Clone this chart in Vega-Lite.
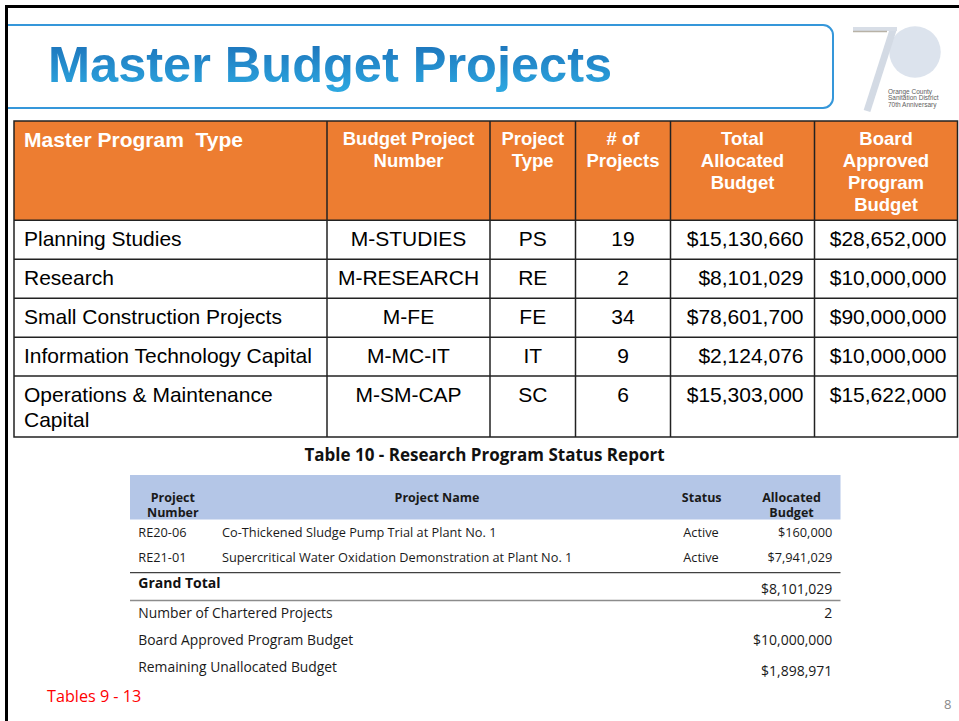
{
  "$schema": "https://vega.github.io/schema/vega-lite/v6.json",
  "width": 959,
  "height": 721,
  "autosize": "none",
  "padding": 0,
  "background": "white",
  "usermeta": {"embedOptions": {"actions": false}},
  "config": {"view": {"stroke": null}, "axis": {"disable": true}, "font": "Liberation Sans"},
  "resolve": {"scale": {"x": "independent", "y": "independent"}},
  "datasets": {
    "master": [
      {"row": 0, "col": 0, "text": "Master Program \u00a0Type"},
      {"row": 0, "col": 1, "text": "Budget Project\nNumber"},
      {"row": 0, "col": 2, "text": "Project\nType"},
      {"row": 0, "col": 3, "text": "# of\nProjects"},
      {"row": 0, "col": 4, "text": "Total\nAllocated\nBudget"},
      {"row": 0, "col": 5, "text": "Board\nApproved\nProgram\nBudget"},
      {"row": 1, "col": 0, "text": "Planning Studies"},
      {"row": 1, "col": 1, "text": "M-STUDIES"},
      {"row": 1, "col": 2, "text": "PS"},
      {"row": 1, "col": 3, "text": "19"},
      {"row": 1, "col": 4, "text": "$15,130,660"},
      {"row": 1, "col": 5, "text": "$28,652,000"},
      {"row": 2, "col": 0, "text": "Research"},
      {"row": 2, "col": 1, "text": "M-RESEARCH"},
      {"row": 2, "col": 2, "text": "RE"},
      {"row": 2, "col": 3, "text": "2"},
      {"row": 2, "col": 4, "text": "$8,101,029"},
      {"row": 2, "col": 5, "text": "$10,000,000"},
      {"row": 3, "col": 0, "text": "Small Construction Projects"},
      {"row": 3, "col": 1, "text": "M-FE"},
      {"row": 3, "col": 2, "text": "FE"},
      {"row": 3, "col": 3, "text": "34"},
      {"row": 3, "col": 4, "text": "$78,601,700"},
      {"row": 3, "col": 5, "text": "$90,000,000"},
      {"row": 4, "col": 0, "text": "Information Technology Capital"},
      {"row": 4, "col": 1, "text": "M-MC-IT"},
      {"row": 4, "col": 2, "text": "IT"},
      {"row": 4, "col": 3, "text": "9"},
      {"row": 4, "col": 4, "text": "$2,124,076"},
      {"row": 4, "col": 5, "text": "$10,000,000"},
      {"row": 5, "col": 0, "text": "Operations & Maintenance\nCapital"},
      {"row": 5, "col": 1, "text": "M-SM-CAP"},
      {"row": 5, "col": 2, "text": "SC"},
      {"row": 5, "col": 3, "text": "6"},
      {"row": 5, "col": 4, "text": "$15,303,000"},
      {"row": 5, "col": 5, "text": "$15,622,000"}
    ],
    "research": [
      {"row": 0, "col": 0, "text": "Project\nNumber"},
      {"row": 0, "col": 1, "text": "Project Name"},
      {"row": 0, "col": 2, "text": "Status"},
      {"row": 0, "col": 3, "text": "Allocated\nBudget"},
      {"row": 1, "col": 0, "text": "RE20-06"},
      {"row": 1, "col": 1, "text": "Co-Thickened Sludge Pump Trial at Plant No. 1"},
      {"row": 1, "col": 2, "text": "Active"},
      {"row": 1, "col": 3, "text": "$160,000"},
      {"row": 2, "col": 0, "text": "RE21-01"},
      {"row": 2, "col": 1, "text": "Supercritical Water Oxidation Demonstration at Plant No. 1"},
      {"row": 2, "col": 2, "text": "Active"},
      {"row": 2, "col": 3, "text": "$7,941,029"},
      {"row": 3, "col": 0, "text": "Grand Total"},
      {"row": 3, "col": 3, "text": "$8,101,029"},
      {"row": 4, "col": 0, "text": "Number of Chartered Projects"},
      {"row": 4, "col": 3, "text": "2"},
      {"row": 5, "col": 0, "text": "Board Approved Program Budget"},
      {"row": 5, "col": 3, "text": "$10,000,000"},
      {"row": 6, "col": 0, "text": "Remaining Unallocated Budget"},
      {"row": 6, "col": 3, "text": "$1,898,971"}
    ]
  },
  "layer": [
    {
      "data": {"values": [{"title": "Master Budget Projects"}]},
      "mark": {"type": "rect", "fill": "#ffffff", "stroke": "#3597DA", "strokeWidth": 2, "cornerRadiusTopLeft": 0, "cornerRadiusBottomLeft": 0, "cornerRadiusTopRight": 10, "cornerRadiusBottomRight": 10},
      "encoding": {
        "x": {"datum": 0, "type": "quantitative", "scale": {"domain": [0, 1], "range": [7, 833], "nice": false}},
        "x2": {"datum": 1},
        "y": {"datum": 0, "type": "quantitative", "scale": {"domain": [0, 1], "range": [25, 108], "nice": false}},
        "y2": {"datum": 1}
      }
    },
    {
      "data": {"values": [{"title": "Master Budget Projects"}]},
      "mark": {"type": "text", "font": "Liberation Sans", "fontWeight": "bold", "fontSize": 50.5, "align": "left", "baseline": "alphabetic",
        "color": {"gradient": "linear", "x1": 0, "y1": 0, "x2": 0, "y2": 1, "stops": [{"offset": 0, "color": "#1A6DB6"}, {"offset": 1, "color": "#2EAAE2"}]}},
      "encoding": {
        "text": {"field": "title"},
        "x": {"datum": 0, "type": "quantitative", "scale": {"domain": [0, 1], "range": [48, 610], "nice": false}},
        "y": {"datum": 0, "type": "quantitative", "scale": {"domain": [0, 1], "range": [82, 108], "nice": false}}
      }
    },
    {
      "data": {"values": [{"logo": "70"}]},
      "mark": {"type": "point", "shape": "circle", "filled": true, "size": 2650, "color": "#DCE3ED", "opacity": 1},
      "encoding": {
        "x": {"datum": 0, "type": "quantitative", "scale": {"domain": [0, 1], "range": [915, 959], "nice": false}},
        "y": {"datum": 0, "type": "quantitative", "scale": {"domain": [0, 1], "range": [52, 110], "nice": false}}
      }
    },
    {
      "data": {"values": [{"logo": "70"}]},
      "mark": {"type": "rule", "color": "#D3DAE4", "strokeWidth": 7},
      "encoding": {
        "x": {"datum": 0, "type": "quantitative", "scale": {"domain": [0, 1], "range": [893, 867], "nice": false}},
        "x2": {"datum": 1},
        "y": {"datum": 0, "type": "quantitative", "scale": {"domain": [0, 1], "range": [30, 111], "nice": false}},
        "y2": {"datum": 1}
      }
    },
    {
      "data": {"values": [{"logo": "70"}]},
      "mark": {"type": "rule", "color": "#D8DEE7", "strokeWidth": 4},
      "encoding": {
        "x": {"datum": 0, "type": "quantitative", "scale": {"domain": [0, 1], "range": [853, 897], "nice": false}},
        "x2": {"datum": 1},
        "y": {"datum": 0, "type": "quantitative", "scale": {"domain": [0, 1], "range": [29, 40], "nice": false}}
      }
    },
    {
      "data": {"values": [{"logo": "70"}]},
      "mark": {"type": "rule", "color": "#B8B2A6", "strokeWidth": 1.5},
      "encoding": {
        "x": {"datum": 0, "type": "quantitative", "scale": {"domain": [0, 1], "range": [853, 887], "nice": false}},
        "x2": {"datum": 1},
        "y": {"datum": 0, "type": "quantitative", "scale": {"domain": [0, 1], "range": [31.5, 40], "nice": false}}
      }
    },
    {
      "data": {"values": [{"line": 1, "text": "Orange County"}, {"line": 2, "text": "Sanitation District"}, {"line": 3, "text": "70th Anniversary"}]},
      "mark": {"type": "text", "fontSize": 6.5, "color": "#5E5E5E", "align": "left", "baseline": "alphabetic"},
      "encoding": {
        "text": {"field": "text"},
        "x": {"datum": 0, "type": "quantitative", "scale": {"domain": [0, 1], "range": [888, 940], "nice": false}},
        "y": {"field": "line", "type": "quantitative", "scale": {"domain": [1, 3], "range": [93.5, 107], "nice": false}}
      }
    },
    {
      "data": {"name": "master"},
      "transform": [{"filter": "datum.row == 0 && datum.col == 0"}],
      "mark": {"type": "rect", "color": "#ED7D31"},
      "encoding": {
        "x": {"datum": 0, "type": "quantitative", "scale": {"domain": [0, 1], "range": [14, 957.5], "nice": false}},
        "x2": {"datum": 1},
        "y": {"datum": 0, "type": "quantitative", "scale": {"domain": [0, 1], "range": [121, 220.3], "nice": false}},
        "y2": {"datum": 1}
      }
    },
    {
      "data": {"name": "master"},
      "transform": [{"filter": "datum.row == 0 && datum.col == 0"}],
      "mark": {"type": "text", "font": "Liberation Sans", "fontWeight": "bold", "fontSize": 21, "color": "#ffffff", "align": "left", "baseline": "alphabetic"},
      "encoding": {
        "text": {"field": "text"},
        "x": {"field": "col", "type": "quantitative", "scale": {"domain": [0, 1], "range": [24, 408.5], "nice": false, "zero": false}},
        "y": {"field": "row", "type": "quantitative", "scale": {"domain": [0, 1], "range": [146.7, 246], "nice": false, "zero": false}}
      }
    },
    {
      "data": {"name": "master"},
      "transform": [{"filter": "datum.row == 0 && datum.col >= 1"}],
      "mark": {"type": "text", "font": "Liberation Sans", "fontWeight": "bold", "fontSize": 18.5, "color": "#ffffff", "align": "center", "baseline": "alphabetic", "lineBreak": "\n", "lineHeight": 22.3},
      "encoding": {
        "text": {"field": "text"},
        "x": {"field": "col", "type": "quantitative", "scale": {"domain": [1, 2, 3, 4, 5], "range": [408.5, 532.75, 623, 742.5, 886], "nice": false, "zero": false}},
        "y": {"field": "row", "type": "quantitative", "scale": {"domain": [0, 1], "range": [144.5, 246], "nice": false, "zero": false}}
      }
    },
    {
      "data": {"name": "master"},
      "transform": [{"filter": "datum.row >= 1 && datum.col == 0"}],
      "mark": {"type": "text", "font": "Liberation Sans", "fontSize": 21, "color": "#000000", "align": "left", "baseline": "alphabetic", "lineBreak": "\n", "lineHeight": 25.6},
      "encoding": {
        "text": {"field": "text"},
        "x": {"field": "col", "type": "quantitative", "scale": {"domain": [0, 1, 2, 3, 4, 5], "range": [24, 408.5, 532.75, 623, 803.5, 946.5], "nice": false, "zero": false}},
        "y": {"field": "row", "type": "quantitative", "scale": {"domain": [1, 2, 3, 4, 5], "range": [246, 285, 324, 362.7, 401.7], "nice": false, "zero": false}}
      }
    },
    {
      "data": {"name": "master"},
      "transform": [{"filter": "datum.row >= 1 && datum.col >= 1 && datum.col <= 3"}],
      "mark": {"type": "text", "font": "Liberation Sans", "fontSize": 21, "color": "#000000", "align": "center", "baseline": "alphabetic"},
      "encoding": {
        "text": {"field": "text"},
        "x": {"field": "col", "type": "quantitative", "scale": {"domain": [0, 1, 2, 3, 4, 5], "range": [24, 408.5, 532.75, 623, 803.5, 946.5], "nice": false, "zero": false}},
        "y": {"field": "row", "type": "quantitative", "scale": {"domain": [1, 2, 3, 4, 5], "range": [246, 285, 324, 362.7, 401.7], "nice": false, "zero": false}}
      }
    },
    {
      "data": {"name": "master"},
      "transform": [{"filter": "datum.row >= 1 && datum.col >= 4"}],
      "mark": {"type": "text", "font": "Liberation Sans", "fontSize": 21, "color": "#000000", "align": "right", "baseline": "alphabetic"},
      "encoding": {
        "text": {"field": "text"},
        "x": {"field": "col", "type": "quantitative", "scale": {"domain": [0, 1, 2, 3, 4, 5], "range": [24, 408.5, 532.75, 623, 803.5, 946.5], "nice": false, "zero": false}},
        "y": {"field": "row", "type": "quantitative", "scale": {"domain": [1, 2, 3, 4, 5], "range": [246, 285, 324, 362.7, 401.7], "nice": false, "zero": false}}
      }
    },
    {
      "data": {"name": "master"},
      "transform": [{"filter": "datum.row == 0 && datum.col >= 1"}],
      "mark": {"type": "rule", "color": "#222222", "strokeWidth": 1.5},
      "encoding": {
        "x": {"field": "col", "type": "quantitative", "scale": {"domain": [1, 2, 3, 4, 5], "range": [327, 490, 575.5, 670.5, 814.5], "nice": false, "zero": false}},
        "y": {"datum": 0, "type": "quantitative", "scale": {"domain": [0, 1], "range": [121, 437], "nice": false}},
        "y2": {"datum": 1}
      }
    },
    {
      "data": {"name": "master"},
      "transform": [{"filter": "datum.row >= 1 && datum.col == 0"}],
      "mark": {"type": "rule", "color": "#222222", "strokeWidth": 1.5},
      "encoding": {
        "y": {"field": "row", "type": "quantitative", "scale": {"domain": [1, 2, 3, 4, 5], "range": [220.3, 259.3, 298.3, 337.3, 376], "nice": false, "zero": false}},
        "x": {"datum": 0, "type": "quantitative", "scale": {"domain": [0, 1], "range": [14, 957.5], "nice": false}},
        "x2": {"datum": 1}
      }
    },
    {
      "data": {"name": "master"},
      "transform": [{"filter": "datum.row == 0 && datum.col == 0"}],
      "mark": {"type": "rect", "fill": "#ffffff", "fillOpacity": 0, "stroke": "#222222", "strokeWidth": 1.5},
      "encoding": {
        "x": {"datum": 0, "type": "quantitative", "scale": {"domain": [0, 1], "range": [14, 957.5], "nice": false}},
        "x2": {"datum": 1},
        "y": {"datum": 0, "type": "quantitative", "scale": {"domain": [0, 1], "range": [121, 437], "nice": false}},
        "y2": {"datum": 1}
      }
    },
    {
      "data": {"values": [{"caption": "Table 10 - Research Program Status Report"}]},
      "mark": {"type": "text", "font": "Open Sans", "fontWeight": "bold", "fontSize": 17, "color": "#111111", "align": "center", "baseline": "alphabetic"},
      "encoding": {
        "text": {"field": "caption"},
        "x": {"datum": 0, "type": "quantitative", "scale": {"domain": [0, 1], "range": [484.5, 600], "nice": false}},
        "y": {"datum": 0, "type": "quantitative", "scale": {"domain": [0, 1], "range": [461, 480], "nice": false}}
      }
    },
    {
      "data": {"name": "research"},
      "transform": [{"filter": "datum.row == 0 && datum.col == 0"}],
      "mark": {"type": "rect", "color": "#B4C6E7"},
      "encoding": {
        "x": {"datum": 0, "type": "quantitative", "scale": {"domain": [0, 1], "range": [130, 840.5], "nice": false}},
        "x2": {"datum": 1},
        "y": {"datum": 0, "type": "quantitative", "scale": {"domain": [0, 1], "range": [475, 519.5], "nice": false}},
        "y2": {"datum": 1}
      }
    },
    {
      "data": {"name": "research"},
      "transform": [{"filter": "datum.row == 0"}],
      "mark": {"type": "text", "font": "Open Sans", "fontWeight": "bold", "fontSize": 12.5, "color": "#1A1A1A", "align": "center", "baseline": "middle", "lineBreak": "\n", "lineHeight": 15.5},
      "encoding": {
        "text": {"field": "text"},
        "x": {"field": "col", "type": "quantitative", "scale": {"domain": [0, 1, 2, 3], "range": [172.8, 437, 701.7, 791.5], "nice": false, "zero": false}},
        "y": {"field": "row", "type": "quantitative", "scale": {"domain": [0, 1], "range": [497.5, 536.7], "nice": false, "zero": false}}
      }
    },
    {
      "data": {"name": "research"},
      "transform": [{"filter": "datum.row >= 1 && datum.row <= 2 && datum.col <= 2"}],
      "mark": {"type": "text", "font": "Open Sans", "fontSize": 12.75, "color": "#1A1A1A", "align": "left", "baseline": "alphabetic"},
      "encoding": {
        "text": {"field": "text"},
        "x": {"field": "col", "type": "quantitative", "scale": {"domain": [0, 1, 2, 3], "range": [138.3, 222, 683.3, 832.3], "nice": false, "zero": false}},
        "y": {"field": "row", "type": "quantitative", "scale": {"domain": [1, 2, 3, 4, 5, 6], "range": [536.7, 561.7, 587.7, 618.3, 645, 671.7], "nice": false, "zero": false}}
      }
    },
    {
      "data": {"name": "research"},
      "transform": [{"filter": "datum.row >= 1 && datum.row <= 2 && datum.col == 3"}],
      "mark": {"type": "text", "font": "Open Sans", "fontSize": 12.75, "color": "#1A1A1A", "align": "right", "baseline": "alphabetic"},
      "encoding": {
        "text": {"field": "text"},
        "x": {"field": "col", "type": "quantitative", "scale": {"domain": [0, 1, 2, 3], "range": [138.3, 222, 683.3, 832.3], "nice": false, "zero": false}},
        "y": {"field": "row", "type": "quantitative", "scale": {"domain": [1, 2, 3, 4, 5, 6], "range": [536.7, 561.7, 594.3, 617.7, 645, 675.7], "nice": false, "zero": false}}
      }
    },
    {
      "data": {"name": "research"},
      "transform": [{"filter": "datum.row == 3 && datum.col == 0"}],
      "mark": {"type": "text", "font": "Open Sans", "fontWeight": "bold", "fontSize": 14, "color": "#111111", "align": "left", "baseline": "alphabetic"},
      "encoding": {
        "text": {"field": "text"},
        "x": {"field": "col", "type": "quantitative", "scale": {"domain": [0, 1, 2, 3], "range": [138.3, 222, 683.3, 832.3], "nice": false, "zero": false}},
        "y": {"field": "row", "type": "quantitative", "scale": {"domain": [1, 2, 3, 4, 5, 6], "range": [536.7, 561.7, 587.7, 618.3, 645, 671.7], "nice": false, "zero": false}}
      }
    },
    {
      "data": {"name": "research"},
      "transform": [{"filter": "datum.row >= 4 && datum.col == 0"}],
      "mark": {"type": "text", "font": "Open Sans", "fontSize": 13.85, "color": "#1A1A1A", "align": "left", "baseline": "alphabetic"},
      "encoding": {
        "text": {"field": "text"},
        "x": {"field": "col", "type": "quantitative", "scale": {"domain": [0, 1, 2, 3], "range": [138.3, 222, 683.3, 832.3], "nice": false, "zero": false}},
        "y": {"field": "row", "type": "quantitative", "scale": {"domain": [1, 2, 3, 4, 5, 6], "range": [536.7, 561.7, 587.7, 618.3, 645, 671.7], "nice": false, "zero": false}}
      }
    },
    {
      "data": {"name": "research"},
      "transform": [{"filter": "datum.row >= 3 && datum.col == 3"}],
      "mark": {"type": "text", "font": "Open Sans", "fontSize": 14, "color": "#1A1A1A", "align": "right", "baseline": "alphabetic"},
      "encoding": {
        "text": {"field": "text"},
        "x": {"field": "col", "type": "quantitative", "scale": {"domain": [0, 1, 2, 3], "range": [138.3, 222, 683.3, 832.3], "nice": false, "zero": false}},
        "y": {"field": "row", "type": "quantitative", "scale": {"domain": [1, 2, 3, 4, 5, 6], "range": [536.7, 561.7, 594.3, 617.7, 645, 675.7], "nice": false, "zero": false}}
      }
    },
    {
      "data": {"name": "research"},
      "transform": [{"filter": "(datum.row == 2 || datum.row == 3) && datum.col == 0"}],
      "mark": {"type": "rule", "strokeWidth": 1.3},
      "encoding": {
        "y": {"field": "row", "type": "quantitative", "scale": {"domain": [2, 3], "range": [572.7, 600.5], "nice": false, "zero": false}},
        "x": {"datum": 0, "type": "quantitative", "scale": {"domain": [0, 1], "range": [130, 840.5], "nice": false}},
        "x2": {"datum": 1},
        "color": {"condition": {"test": "datum.row == 2", "value": "#404040"}, "value": "#8C8C8C"}
      }
    },
    {
      "data": {"values": [{"note": "Tables 9 - 13"}]},
      "mark": {"type": "text", "font": "Open Sans", "fontSize": 16.2, "color": "#FF0000", "align": "left", "baseline": "alphabetic"},
      "encoding": {
        "text": {"field": "note"},
        "x": {"datum": 0, "type": "quantitative", "scale": {"domain": [0, 1], "range": [47, 141], "nice": false}},
        "y": {"datum": 0, "type": "quantitative", "scale": {"domain": [0, 1], "range": [702, 721], "nice": false}}
      }
    },
    {
      "data": {"values": [{"page": "8"}]},
      "mark": {"type": "text", "font": "Open Sans", "fontSize": 13, "color": "#8A8A8A", "align": "right", "baseline": "alphabetic"},
      "encoding": {
        "text": {"field": "page"},
        "x": {"datum": 0, "type": "quantitative", "scale": {"domain": [0, 1], "range": [951.5, 959], "nice": false}},
        "y": {"datum": 0, "type": "quantitative", "scale": {"domain": [0, 1], "range": [708.5, 721], "nice": false}}
      }
    },
    {
      "data": {"values": [{"slide": "frame"}]},
      "mark": {"type": "rect", "fill": "#ffffff", "fillOpacity": 0, "stroke": "#000000", "strokeWidth": 3},
      "encoding": {
        "x": {"datum": 0, "type": "quantitative", "scale": {"domain": [0, 1], "range": [6.5, 1000], "nice": false}},
        "x2": {"datum": 1},
        "y": {"datum": 0, "type": "quantitative", "scale": {"domain": [0, 1], "range": [6.5, 1000], "nice": false}},
        "y2": {"datum": 1}
      }
    }
  ]
}
